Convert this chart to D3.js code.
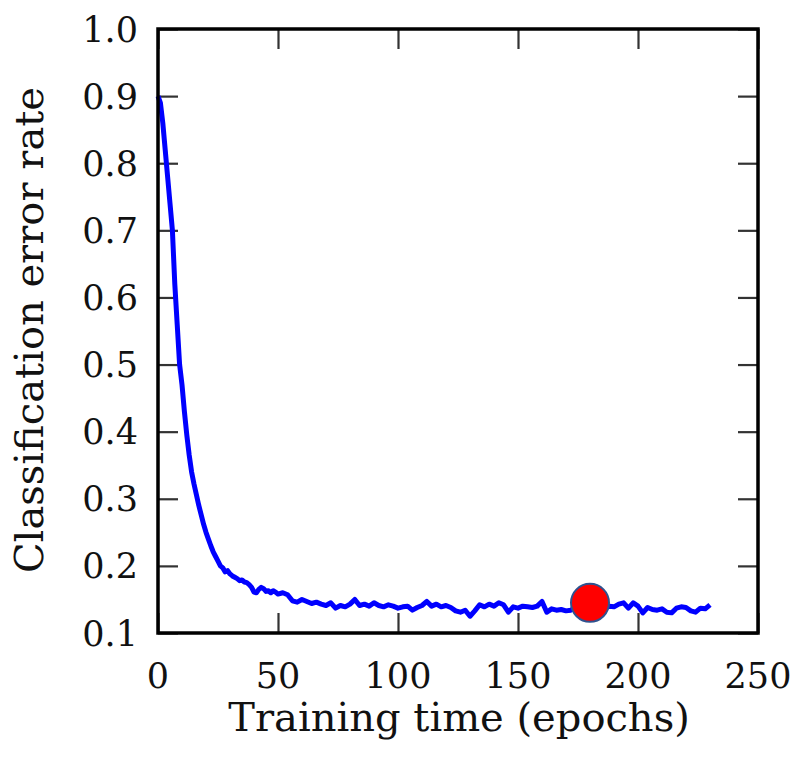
<!DOCTYPE html>
<html>
<head>
<meta charset="utf-8">
<script src="https://cdn.jsdelivr.net/npm/d3@7"></script>
<style>
    body { margin: 0; background: #fff; }
    text { font-family: "DejaVu Serif", "Liberation Serif", serif; fill: #111; }
</style>
</head>
<body>
<svg id="chart" width="802" height="765"></svg>
<script>
// Training curve
const epochs = [0, 1, 2, 3, 4, 5, 6, 7, 8, 9, 10, 11, 12, 13, 14, 15, 16, 17, 18, 19,
    20, 21, 22, 23, 24, 25, 26, 27, 28, 29, 30, 31, 32, 33, 34, 35, 36, 37, 38, 39,
    40, 41, 42, 43, 44, 45, 46, 47, 48, 49, 50, 52, 54, 56, 58, 60, 62, 64, 66, 68,
    70, 72, 74, 76, 78, 80, 82, 84, 86, 88, 90, 92, 94, 96, 98, 100, 102, 104, 106, 108,
    110, 112, 114, 116, 118, 120, 122, 124, 126, 128, 130, 132, 134, 136, 138, 140, 142, 144, 146, 148,
    150, 152, 154, 156, 158, 160, 162, 164, 166, 168, 170, 172, 174, 176, 178, 180, 182, 184, 186, 188,
    190, 192, 194, 196, 198, 200, 202, 204, 206, 208, 210, 212, 214, 216, 218, 220, 222, 224, 226, 228, 230];
const errorRate = [0.900, 0.890, 0.860, 0.820, 0.780, 0.740, 0.700, 0.620, 0.560, 0.500, 0.470, 0.430, 0.395, 0.365, 0.340, 0.322, 0.306, 0.290, 0.276, 0.262,
    0.250, 0.240, 0.230, 0.221, 0.214, 0.207, 0.200, 0.197, 0.191, 0.193, 0.188, 0.185, 0.183, 0.181, 0.178, 0.179, 0.176, 0.175, 0.172, 0.168,
    0.161, 0.160, 0.165, 0.168, 0.166, 0.162, 0.163, 0.160, 0.163, 0.161, 0.158, 0.160, 0.157, 0.148, 0.146, 0.150, 0.147, 0.144, 0.146, 0.143,
    0.141, 0.145, 0.137, 0.141, 0.139, 0.143, 0.150, 0.141, 0.143, 0.140, 0.145, 0.141, 0.139, 0.142, 0.140, 0.137, 0.139, 0.140, 0.134, 0.138,
    0.141, 0.147, 0.140, 0.143, 0.139, 0.141, 0.138, 0.133, 0.131, 0.134, 0.125, 0.133, 0.142, 0.139, 0.143, 0.140, 0.145, 0.142, 0.131, 0.139,
    0.137, 0.140, 0.139, 0.138, 0.140, 0.147, 0.131, 0.136, 0.134, 0.135, 0.133, 0.134, 0.138, 0.140, 0.137, 0.139, 0.141, 0.138, 0.136, 0.140,
    0.139, 0.143, 0.145, 0.137, 0.145, 0.140, 0.130, 0.138, 0.135, 0.134, 0.136, 0.131, 0.130, 0.137, 0.139, 0.138, 0.133, 0.131, 0.137, 0.136, 0.142];
const xTicks = [0, 50, 100, 150, 200, 250];
const yTicks = [0.1, 0.2, 0.3, 0.4, 0.5, 0.6, 0.7, 0.8, 0.9, 1.0];
const marker = [{epoch: 180, rate: 0.145}];

const svg = d3.select("#chart");
const plotLeft = 158, plotRight = 758, plotTop = 29, plotBottom = 633;

const x = d3.scaleLinear().domain([0, 250]).range([plotLeft, plotRight]);
const y = d3.scaleLinear().domain([0.1, 1.0]).range([plotBottom, plotTop]);

// ticks on all four sides, pointing inward
const tickLen = 20;
const tickStyle = function (g) {
    g.select(".domain").remove();
    g.selectAll(".tick line").attr("stroke", "#333").attr("stroke-width", 2.2);
    g.selectAll(".tick text").remove();
};

svg.append("g")
    .attr("transform", "translate(0," + plotBottom + ")")
    .call(d3.axisTop(x).tickValues(xTicks).tickSize(tickLen))
    .call(tickStyle);
svg.append("g")
    .attr("transform", "translate(0," + plotTop + ")")
    .call(d3.axisBottom(x).tickValues(xTicks).tickSize(tickLen))
    .call(tickStyle);
svg.append("g")
    .attr("transform", "translate(" + plotLeft + ",0)")
    .call(d3.axisRight(y).tickValues(yTicks).tickSize(tickLen))
    .call(tickStyle);
svg.append("g")
    .attr("transform", "translate(" + plotRight + ",0)")
    .call(d3.axisLeft(y).tickValues(yTicks).tickSize(tickLen))
    .call(tickStyle);

// tick labels
svg.append("g").selectAll("text")
    .data(xTicks)
    .enter()
    .append("text")
    .attr("x", function (d) { return x(d); })
    .attr("y", 688)
    .attr("text-anchor", "middle")
    .attr("font-size", 35)
    .text(function (d) { return d; });

svg.append("g").selectAll("text")
    .data(yTicks)
    .enter()
    .append("text")
    .attr("x", 138)
    .attr("y", function (d) { return y(d); })
    .attr("dy", "0.36em")
    .attr("text-anchor", "end")
    .attr("font-size", 35)
    .text(function (d) { return d.toFixed(1); });

// the curve
const line = d3.line()
    .x(function (d) { return x(d[0]); })
    .y(function (d) { return y(d[1]); });

svg.append("path")
    .datum(d3.zip(epochs, errorRate))
    .attr("fill", "none")
    .attr("stroke", "#0000ff")
    .attr("stroke-width", 5)
    .attr("stroke-linejoin", "round")
    .attr("d", line);

// frame
svg.append("rect")
    .attr("x", plotLeft)
    .attr("y", plotTop)
    .attr("width", plotRight - plotLeft)
    .attr("height", plotBottom - plotTop)
    .attr("fill", "none")
    .attr("stroke", "#000")
    .attr("stroke-width", 3.5);

// highlighted point
svg.selectAll("circle.mark")
    .data(marker)
    .enter()
    .append("circle")
    .attr("class", "mark")
    .attr("cx", function (d) { return x(d.epoch); })
    .attr("cy", function (d) { return y(d.rate); })
    .attr("r", 19)
    .attr("fill", "#ff0000")
    .attr("stroke", "#2f528f")
    .attr("stroke-width", 2);

// axis titles
svg.append("text")
    .attr("x", 459)
    .attr("y", 731)
    .attr("text-anchor", "middle")
    .attr("font-size", 40)
    .text("Training time (epochs)");

svg.append("text")
    .attr("transform", "translate(43,330) rotate(-90)")
    .attr("text-anchor", "middle")
    .attr("font-size", 40)
    .text("Classification error rate");
</script>
</body>
</html>
